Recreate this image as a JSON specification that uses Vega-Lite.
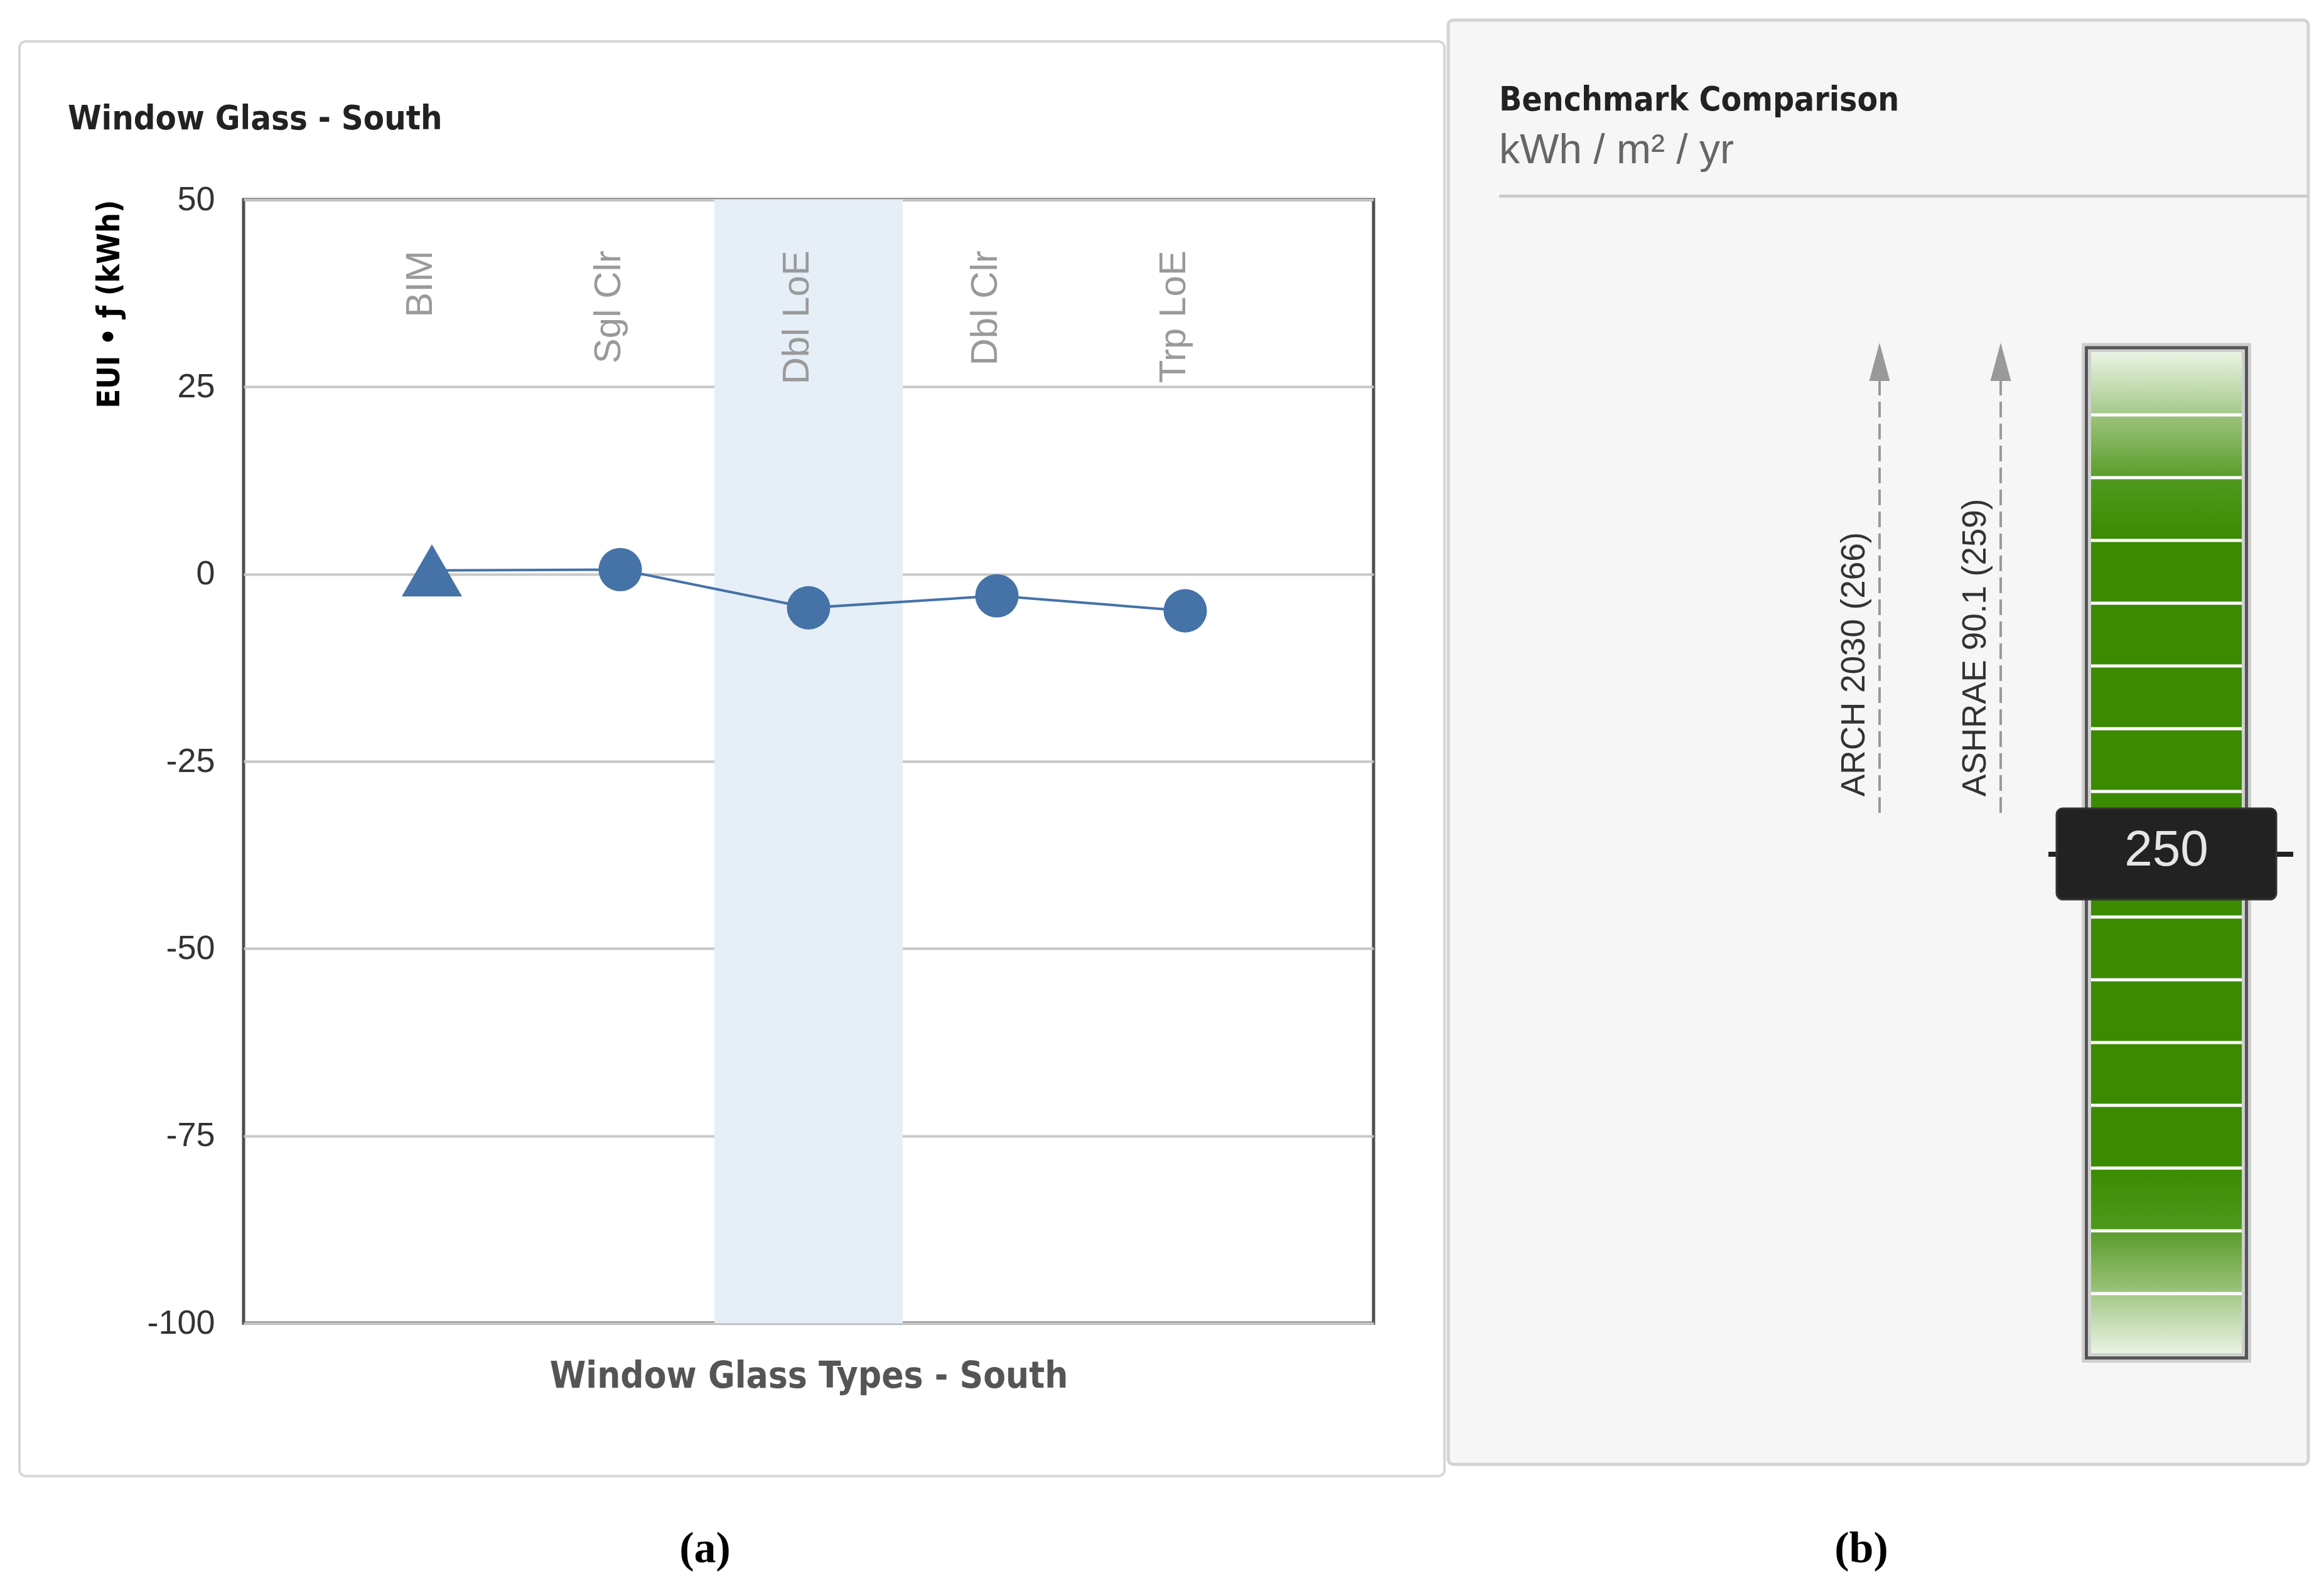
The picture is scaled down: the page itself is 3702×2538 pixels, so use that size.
{
  "$schema": "https://vega.github.io/schema/vega-lite/v6.json",
  "background": "white",
  "padding": {"left": 26, "top": 29, "right": 20, "bottom": 10},
  "autosize": {"type": "pad"},
  "bounds": "flush",
  "spacing": 119,
  "datasets": {
    "glass": [
      {"type": "BIM", "eui": 0.5},
      {"type": "Sgl Clr", "eui": 0.6},
      {"type": "Dbl LoE", "eui": -4.5},
      {"type": "Dbl Clr", "eui": -2.9},
      {"type": "Trp LoE", "eui": -4.9}
    ],
    "segments": [
      {"seg": 0, "top": 330, "bottom": 320},
      {"seg": 1, "top": 320, "bottom": 310},
      {"seg": 2, "top": 310, "bottom": 300},
      {"seg": 3, "top": 300, "bottom": 290},
      {"seg": 4, "top": 290, "bottom": 280},
      {"seg": 5, "top": 280, "bottom": 270},
      {"seg": 6, "top": 270, "bottom": 260},
      {"seg": 7, "top": 260, "bottom": 250},
      {"seg": 8, "top": 250, "bottom": 240},
      {"seg": 9, "top": 240, "bottom": 230},
      {"seg": 10, "top": 230, "bottom": 220},
      {"seg": 11, "top": 220, "bottom": 210},
      {"seg": 12, "top": 210, "bottom": 200},
      {"seg": 13, "top": 200, "bottom": 190},
      {"seg": 14, "top": 190, "bottom": 180},
      {"seg": 15, "top": 180, "bottom": 170.5}
    ],
    "benchmarks": [
      {"label": "ARCH 2030 (266)", "value": 266},
      {"label": "ASHRAE 90.1 (259)", "value": 259}
    ],
    "current": [{"value": 250}],
    "panelA": [{"title": "Window Glass - South", "caption": "(a)"}],
    "panelB": [{"title": "Benchmark Comparison", "unit": "kWh / m² / yr", "caption": "(b)"}]
  },
  "hconcat": [
    {
      "width": 1800,
      "height": 1790,
      "view": {"stroke": "#4d4d4d", "strokeWidth": 5, "fill": "white"},
      "resolve": {"scale": {"x": "independent", "y": "independent"}, "axis": {"x": "independent", "y": "independent"}},
      "layer": [
        {
          "data": {"name": "panelA"},
          "layer": [
            {
              "mark": {"type": "rect", "fill": "transparent", "stroke": "#d6d6d6", "strokeWidth": 4, "cornerRadius": 10},
              "encoding": {
                "x": {"datum": -0.19833, "type": "quantitative", "scale": {"domain": [0, 1], "nice": false, "zero": false}, "axis": null},
                "x2": {"datum": 1.0628},
                "y": {"datum": 1.14078, "type": "quantitative", "scale": {"domain": [0, 1], "nice": false, "zero": false}, "axis": null},
                "y2": {"datum": -0.1362}
              }
            },
            {
              "mark": {"type": "text", "align": "left", "baseline": "alphabetic", "font": "Liberation Sans Narrow, DejaVu Sans Condensed, sans-serif", "fontSize": 54, "fontWeight": "bold", "color": "#222222"},
              "encoding": {
                "text": {"field": "title"},
                "x": {"datum": -0.1556, "type": "quantitative", "scale": {"domain": [0, 1], "nice": false, "zero": false}, "axis": null},
                "y": {"datum": 1.0626, "type": "quantitative", "scale": {"domain": [0, 1], "nice": false, "zero": false}, "axis": null}
              }
            },
            {
              "mark": {"type": "text", "align": "center", "baseline": "alphabetic", "font": "Liberation Serif", "fontSize": 70, "fontWeight": "bold", "color": "#000000"},
              "encoding": {
                "text": {"field": "caption"},
                "x": {"datum": 0.4083, "type": "quantitative", "scale": {"domain": [0, 1], "nice": false, "zero": false}, "axis": null},
                "y": {"datum": -0.2129, "type": "quantitative", "scale": {"domain": [0, 1], "nice": false, "zero": false}, "axis": null}
              }
            }
          ]
        },
        {
          "data": {"name": "glass"},
          "encoding": {
            "x": {
              "field": "type",
              "type": "nominal",
              "sort": null,
              "scale": {"domain": ["BIM", "Sgl Clr", "Dbl LoE", "Dbl Clr", "Trp LoE"], "paddingInner": 0, "paddingOuter": 0.5},
              "axis": {
                "orient": "bottom",
                "labels": false,
                "ticks": false,
                "domain": false,
                "grid": false,
                "title": "Window Glass Types - South",
                "titleFont": "Liberation Sans Narrow, DejaVu Sans Condensed, sans-serif",
                "titleFontSize": 58,
                "titleFontWeight": "bold",
                "titleColor": "#555555",
                "titlePadding": 56
              }
            },
            "y": {
              "field": "eui",
              "type": "quantitative",
              "scale": {"domain": [-100, 50], "nice": false, "zero": false},
              "axis": {
                "orient": "left",
                "values": [-100, -75, -50, -25, 0, 25, 50],
                "labelExpr": "replace(datum.label, '−', '-')",
                "grid": true,
                "gridColor": "#c8c8c8",
                "gridWidth": 4,
                "domain": false,
                "ticks": false,
                "labelFont": "Liberation Sans",
                "labelFontSize": 54,
                "labelColor": "#333333",
                "labelPadding": 46,
                "title": "EUI • ƒ (kWh)",
                "titleFont": "Liberation Sans Narrow, DejaVu Sans Condensed, sans-serif",
                "titleFontSize": 50,
                "titleFontWeight": "bold",
                "titleColor": "#000000",
                "titleAnchor": "end",
                "titlePadding": 34
              }
            }
          },
          "layer": [
            {
              "transform": [{"filter": "datum.type === 'Dbl LoE'"}],
              "mark": {"type": "bar", "color": "#e6eef7"},
              "encoding": {
                "y": {"datum": -100, "type": "quantitative"},
                "y2": {"datum": 50}
              }
            },
            {
              "mark": {"type": "line", "color": "#4572A7", "strokeWidth": 4}
            },
            {
              "transform": [{"filter": "datum.type === 'BIM'"}],
              "mark": {"type": "point", "shape": "triangle-up", "filled": true, "size": 9216, "color": "#4572A7", "opacity": 1}
            },
            {
              "transform": [{"filter": "datum.type !== 'BIM'"}],
              "mark": {"type": "point", "shape": "circle", "filled": true, "size": 4778, "color": "#4572A7", "opacity": 1}
            },
            {
              "mark": {"type": "text", "angle": 270, "align": "right", "baseline": "alphabetic", "font": "Liberation Sans", "fontSize": 60, "color": "#9a9a9a"},
              "encoding": {
                "text": {"field": "type"},
                "y": {"datum": 43.2, "type": "quantitative"}
              }
            }
          ]
        }
      ]
    },
    {
      "width": 1370,
      "height": 2015,
      "view": {"stroke": null},
      "layer": [
        {
          "data": {"name": "panelB"},
          "mark": {"type": "rect", "fill": "#f6f6f6", "stroke": "#d4d4d4", "strokeWidth": 5, "cornerRadius": 8},
          "encoding": {
            "x": {"datum": 0, "type": "quantitative", "scale": {"domain": [0, 137], "nice": false, "zero": false}, "axis": null},
            "x2": {"datum": 137},
            "y": {"datum": 152.8, "type": "quantitative", "scale": {"domain": [152.8, 354.3], "nice": false, "zero": false}, "axis": null},
            "y2": {"datum": 382.9}
          }
        },
        {
          "data": {"name": "panelB"},
          "mark": {"type": "text", "align": "left", "baseline": "alphabetic", "font": "Liberation Sans Narrow, DejaVu Sans Condensed, sans-serif", "fontSize": 53, "fontWeight": "bold", "color": "#222222"},
          "encoding": {
            "text": {"field": "title"},
            "x": {"datum": 8.1, "type": "quantitative"},
            "y": {"datum": 368.5, "type": "quantitative"}
          }
        },
        {
          "data": {"name": "panelB"},
          "mark": {"type": "text", "align": "left", "baseline": "alphabetic", "font": "Liberation Sans", "fontSize": 66, "color": "#666666"},
          "encoding": {
            "text": {"field": "unit"},
            "x": {"datum": 8.1, "type": "quantitative"},
            "y": {"datum": 360.1, "type": "quantitative"}
          }
        },
        {
          "data": {"name": "panelB"},
          "mark": {"type": "rule", "color": "#cccccc", "strokeWidth": 5},
          "encoding": {
            "x": {"datum": 8.1, "type": "quantitative"},
            "x2": {"datum": 137},
            "y": {"datum": 354.85, "type": "quantitative"}
          }
        },
        {
          "data": {"name": "panelB"},
          "mark": {"type": "text", "align": "center", "baseline": "alphabetic", "font": "Liberation Serif", "fontSize": 70, "fontWeight": "bold", "color": "#000000"},
          "encoding": {
            "text": {"field": "caption"},
            "x": {"datum": 65.8, "type": "quantitative"},
            "y": {"datum": 137.2, "type": "quantitative"}
          }
        },
        {
          "data": {"name": "benchmarks"},
          "transform": [{"filter": "datum.value === 266"}],
          "mark": {"type": "rule", "color": "#999999", "strokeWidth": 4, "strokeDash": [25, 10]},
          "encoding": {
            "x": {"datum": 68.7, "type": "quantitative"},
            "y": {"datum": 256.6, "type": "quantitative"},
            "y2": {"datum": 325.4}
          }
        },
        {
          "data": {"name": "benchmarks"},
          "transform": [{"filter": "datum.value === 259"}],
          "mark": {"type": "rule", "color": "#999999", "strokeWidth": 4, "strokeDash": [25, 10]},
          "encoding": {
            "x": {"datum": 88.0, "type": "quantitative"},
            "y": {"datum": 256.6, "type": "quantitative"},
            "y2": {"datum": 325.4}
          }
        },
        {
          "data": {"name": "benchmarks"},
          "transform": [{"filter": "datum.value === 266"}],
          "mark": {"type": "point", "shape": "M0,-1L0.54,1L-0.54,1Z", "filled": true, "size": 3721, "color": "#999999", "opacity": 1},
          "encoding": {
            "x": {"datum": 68.7, "type": "quantitative"},
            "y": {"datum": 328.45, "type": "quantitative"}
          }
        },
        {
          "data": {"name": "benchmarks"},
          "transform": [{"filter": "datum.value === 259"}],
          "mark": {"type": "point", "shape": "M0,-1L0.54,1L-0.54,1Z", "filled": true, "size": 3721, "color": "#999999", "opacity": 1},
          "encoding": {
            "x": {"datum": 88.0, "type": "quantitative"},
            "y": {"datum": 328.45, "type": "quantitative"}
          }
        },
        {
          "data": {"name": "benchmarks"},
          "transform": [{"filter": "datum.value === 266"}],
          "mark": {"type": "text", "angle": 270, "align": "left", "baseline": "alphabetic", "font": "Liberation Sans", "fontSize": 53, "color": "#333333"},
          "encoding": {
            "text": {"field": "label"},
            "x": {"datum": 66.3, "type": "quantitative"},
            "y": {"datum": 259.2, "type": "quantitative"}
          }
        },
        {
          "data": {"name": "benchmarks"},
          "transform": [{"filter": "datum.value === 259"}],
          "mark": {"type": "text", "angle": 270, "align": "left", "baseline": "alphabetic", "font": "Liberation Sans", "fontSize": 53, "color": "#333333"},
          "encoding": {
            "text": {"field": "label"},
            "x": {"datum": 85.6, "type": "quantitative"},
            "y": {"datum": 259.2, "type": "quantitative"}
          }
        },
        {
          "data": {"name": "current"},
          "mark": {"type": "rect", "fill": "transparent", "stroke": "#cfcfcf", "strokeWidth": 15},
          "encoding": {
            "x": {"datum": 101.65, "type": "quantitative"},
            "x2": {"datum": 127.15},
            "y": {"datum": 169.75, "type": "quantitative"},
            "y2": {"datum": 330.7}
          }
        },
        {
          "data": {"name": "current"},
          "mark": {"type": "rect", "fill": "transparent", "stroke": "#555555", "strokeWidth": 5},
          "encoding": {
            "x": {"datum": 101.65, "type": "quantitative"},
            "x2": {"datum": 127.15},
            "y": {"datum": 169.75, "type": "quantitative"},
            "y2": {"datum": 330.7}
          }
        },
        {
          "data": {"name": "segments"},
          "mark": {"type": "rect", "color": "#3b8a00"},
          "encoding": {
            "x": {"datum": 102.4, "type": "quantitative"},
            "x2": {"datum": 126.4},
            "y": {"field": "top", "type": "quantitative"},
            "y2": {"field": "bottom"}
          }
        },
        {
          "data": {"name": "segments"},
          "transform": [{"filter": "datum.seg === 0"}],
          "mark": {"type": "rect", "fill": {"gradient": "linear", "x1": 0, "y1": 0, "x2": 0, "y2": 1, "stops": [{"offset": 0, "color": "#eaf3e3"}, {"offset": 1, "color": "#a3c888"}]}},
          "encoding": {
            "x": {"datum": 102.4, "type": "quantitative"},
            "x2": {"datum": 126.4},
            "y": {"field": "top", "type": "quantitative"},
            "y2": {"field": "bottom"}
          }
        },
        {
          "data": {"name": "segments"},
          "transform": [{"filter": "datum.seg === 1"}],
          "mark": {"type": "rect", "fill": {"gradient": "linear", "x1": 0, "y1": 0, "x2": 0, "y2": 1, "stops": [{"offset": 0, "color": "#9cc47c"}, {"offset": 1, "color": "#5a9c2a"}]}},
          "encoding": {
            "x": {"datum": 102.4, "type": "quantitative"},
            "x2": {"datum": 126.4},
            "y": {"field": "top", "type": "quantitative"},
            "y2": {"field": "bottom"}
          }
        },
        {
          "data": {"name": "segments"},
          "transform": [{"filter": "datum.seg === 2"}],
          "mark": {"type": "rect", "fill": {"gradient": "linear", "x1": 0, "y1": 0, "x2": 0, "y2": 1, "stops": [{"offset": 0, "color": "#4f9a1f"}, {"offset": 1, "color": "#3b8a00"}]}},
          "encoding": {
            "x": {"datum": 102.4, "type": "quantitative"},
            "x2": {"datum": 126.4},
            "y": {"field": "top", "type": "quantitative"},
            "y2": {"field": "bottom"}
          }
        },
        {
          "data": {"name": "segments"},
          "transform": [{"filter": "datum.seg === 13"}],
          "mark": {"type": "rect", "fill": {"gradient": "linear", "x1": 0, "y1": 0, "x2": 0, "y2": 1, "stops": [{"offset": 0, "color": "#3b8a00"}, {"offset": 1, "color": "#4f9a1f"}]}},
          "encoding": {
            "x": {"datum": 102.4, "type": "quantitative"},
            "x2": {"datum": 126.4},
            "y": {"field": "top", "type": "quantitative"},
            "y2": {"field": "bottom"}
          }
        },
        {
          "data": {"name": "segments"},
          "transform": [{"filter": "datum.seg === 14"}],
          "mark": {"type": "rect", "fill": {"gradient": "linear", "x1": 0, "y1": 0, "x2": 0, "y2": 1, "stops": [{"offset": 0, "color": "#5a9c2a"}, {"offset": 1, "color": "#9cc47c"}]}},
          "encoding": {
            "x": {"datum": 102.4, "type": "quantitative"},
            "x2": {"datum": 126.4},
            "y": {"field": "top", "type": "quantitative"},
            "y2": {"field": "bottom"}
          }
        },
        {
          "data": {"name": "segments"},
          "transform": [{"filter": "datum.seg === 15"}],
          "mark": {"type": "rect", "fill": {"gradient": "linear", "x1": 0, "y1": 0, "x2": 0, "y2": 1, "stops": [{"offset": 0, "color": "#a3c888"}, {"offset": 1, "color": "#eaf3e3"}]}},
          "encoding": {
            "x": {"datum": 102.4, "type": "quantitative"},
            "x2": {"datum": 126.4},
            "y": {"field": "top", "type": "quantitative"},
            "y2": {"field": "bottom"}
          }
        },
        {
          "data": {"name": "segments"},
          "transform": [{"filter": "datum.seg > 0"}],
          "mark": {"type": "rule", "color": "#ffffff", "strokeWidth": 5},
          "encoding": {
            "x": {"datum": 102.4, "type": "quantitative"},
            "x2": {"datum": 126.4},
            "y": {"field": "top", "type": "quantitative"}
          }
        },
        {
          "data": {"name": "current"},
          "mark": {"type": "rule", "color": "#222222", "strokeWidth": 8},
          "encoding": {
            "x": {"datum": 95.6, "type": "quantitative"},
            "x2": {"datum": 134.6},
            "y": {"field": "value", "type": "quantitative"}
          }
        },
        {
          "data": {"name": "current"},
          "mark": {"type": "rect", "color": "#222222", "cornerRadius": 10, "stroke": "#333333", "strokeWidth": 3},
          "encoding": {
            "x": {"datum": 96.9, "type": "quantitative"},
            "x2": {"datum": 131.9},
            "y": {"datum": 257.3, "type": "quantitative"},
            "y2": {"datum": 242.8}
          }
        },
        {
          "data": {"name": "current"},
          "mark": {"type": "text", "align": "center", "baseline": "middle", "dy": -6, "font": "Liberation Sans", "fontSize": 80, "color": "#e6e6e6"},
          "encoding": {
            "text": {"field": "value"},
            "x": {"datum": 114.4, "type": "quantitative"},
            "y": {"field": "value", "type": "quantitative"}
          }
        }
      ]
    }
  ]
}
